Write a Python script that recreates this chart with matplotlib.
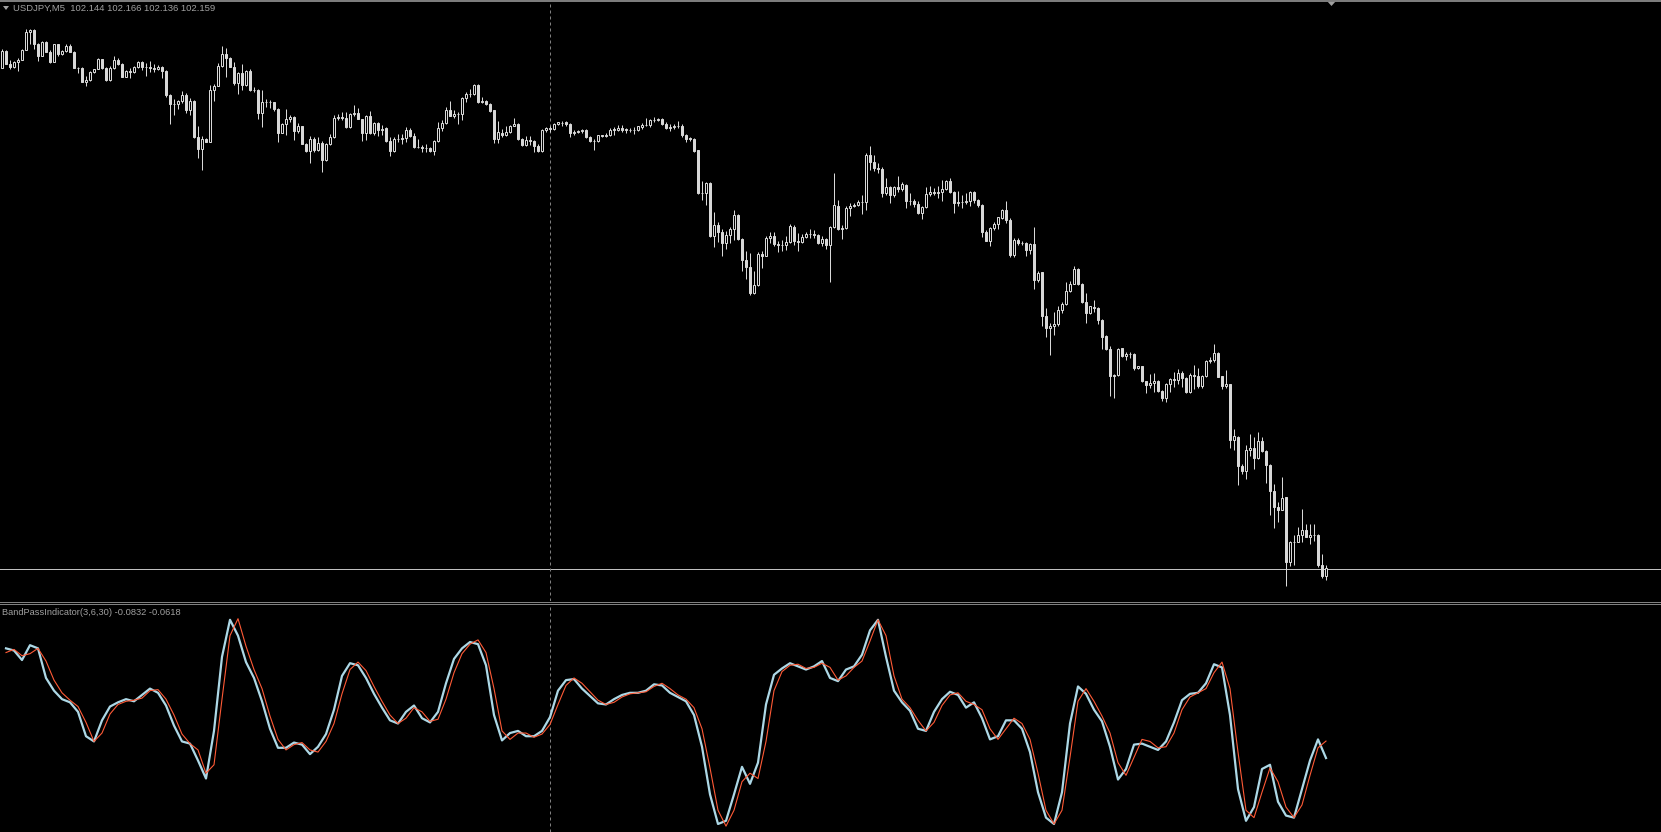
import numpy as np
import matplotlib
matplotlib.use("Agg")
import matplotlib.pyplot as plt
from matplotlib.lines import Line2D
from matplotlib.patches import Polygon

# USDJPY M5 closes, one per bar (open of each bar = previous close)
closes = [
    103.194, 103.168, 103.163, 103.173, 103.176, 103.196, 103.232, 103.236, 103.208, 103.185,
    103.212, 103.193, 103.173, 103.208, 103.188, 103.194, 103.204, 103.192, 103.160, 103.160,
    103.133, 103.136, 103.152, 103.158, 103.178, 103.161, 103.136, 103.160, 103.176, 103.168,
    103.142, 103.154, 103.153, 103.162, 103.173, 103.163, 103.163, 103.161, 103.159, 103.163,
    103.154, 103.106, 103.088, 103.088, 103.094, 103.106, 103.076, 103.094, 103.023, 102.999,
    103.018, 103.012, 103.116, 103.125, 103.165, 103.189, 103.181, 103.163, 103.131, 103.151,
    103.126, 103.154, 103.117, 103.116, 103.071, 103.093, 103.092, 103.092, 103.079, 103.031,
    103.048, 103.059, 103.063, 103.035, 103.044, 103.008, 102.994, 103.019, 102.996, 103.011,
    102.977, 103.008, 103.023, 103.061, 103.062, 103.060, 103.043, 103.069, 103.071, 103.058,
    103.031, 103.064, 103.031, 103.051, 103.037, 103.039, 103.015, 102.994, 103.019, 103.019,
    103.021, 103.036, 103.025, 103.003, 103.003, 103.001, 103.001, 102.994, 103.014, 103.041,
    103.051, 103.076, 103.065, 103.069, 103.069, 103.101, 103.109, 103.108, 103.126, 103.093,
    103.095, 103.088, 103.075, 103.018, 103.031, 103.026, 103.033, 103.044, 103.048, 103.019,
    103.006, 103.016, 103.014, 103.004, 102.994, 103.036, 103.041, 103.038, 103.048, 103.051,
    103.051, 103.048, 103.031, 103.033, 103.035, 103.037, 103.023, 103.014, 103.015, 103.025,
    103.024, 103.026, 103.036, 103.037, 103.041, 103.037, 103.036, 103.036, 103.036, 103.043,
    103.046, 103.046, 103.057, 103.057, 103.059, 103.049, 103.041, 103.043, 103.044, 103.045,
    103.026, 103.019, 103.018, 102.995, 102.911, 102.911, 102.931, 102.825, 102.846, 102.833,
    102.811, 102.827, 102.838, 102.867, 102.818, 102.777, 102.763, 102.711, 102.727, 102.789,
    102.784, 102.821, 102.824, 102.809, 102.806, 102.806, 102.813, 102.843, 102.815, 102.813,
    102.823, 102.829, 102.829, 102.827, 102.811, 102.819, 102.806, 102.843, 102.885, 102.838,
    102.840, 102.881, 102.884, 102.886, 102.893, 102.893, 102.986, 102.973, 102.961, 102.958,
    102.911, 102.921, 102.906, 102.921, 102.918, 102.927, 102.895, 102.894, 102.889, 102.871,
    102.883, 102.909, 102.913, 102.911, 102.913, 102.919, 102.934, 102.913, 102.891, 102.893,
    102.893, 102.894, 102.913, 102.897, 102.886, 102.833, 102.814, 102.841, 102.849, 102.861,
    102.877, 102.856, 102.786, 102.816, 102.810, 102.810, 102.796, 102.809, 102.737, 102.751,
    102.664, 102.641, 102.644, 102.649, 102.677, 102.689, 102.714, 102.729, 102.759, 102.728,
    102.693, 102.671, 102.683, 102.681, 102.657, 102.623, 102.599, 102.544, 102.546, 102.599,
    102.584, 102.589, 102.589, 102.561, 102.565, 102.534, 102.527, 102.531, 102.534, 102.515,
    102.501, 102.529, 102.539, 102.537, 102.551, 102.541, 102.513, 102.547, 102.544, 102.524,
    102.544, 102.575, 102.577, 102.591, 102.543, 102.525, 102.528, 102.417, 102.423, 102.365,
    102.355, 102.396, 102.401, 102.381, 102.414, 102.395, 102.367, 102.314, 102.283, 102.277,
    102.301, 102.173, 102.213, 102.213, 102.227, 102.236, 102.223, 102.227, 102.227, 102.166,
    102.144, 102.159,
]
first_open = 103.161

# wick lengths beyond the body, in points (0.001)
upper_wick = [
    4, 2, 8, 2, 4, 2, 6, 2, 2, 2,   2, 2, 4, 0, 0, 2, 4, 4, 2, 2,
    2, 8, 2, 0, 2, 0, 2, 4, 8, 4,   2, 2, 6, 2, 2, 2, 8, 12, 8, 4,
    2, 2, 2, 10, 2, 8, 4, 6, 2, 22,   6, 2, 10, 4, 6, 16, 12, 2, 10, 2,
    18, 2, 4, 6, 2, 24, 6, 4, 0, 2,   2, 20, 4, 2, 6, 0, 2, 6, 4, 12,
    4, 2, 6, 6, 6, 10, 12, 2, 16, 10,   0, 2, 10, 2, 2, 8, 4, 8, 4, 10,
    8, 6, 4, 6, 16, 4, 8, 2, 2, 12,   6, 6, 18, 8, 4, 2, 4, 10, 2, 2,
    8, 2, 2, 0, 24, 8, 12, 2, 12, 2,   2, 8, 8, 2, 4, 2, 2, 4, 2, 2,
    4, 4, 2, 4, 2, 2, 2, 2, 4, 2,   2, 4, 4, 6, 6, 6, 4, 4, 6, 2,
    4, 14, 2, 6, 2, 2, 4, 6, 4, 10,   4, 2, 4, 2, 2, 24, 2, 2, 26, 6,
    6, 8, 4, 10, 2, 2, 18, 28, 28, 4,   6, 4, 8, 8, 6, 10, 12, 6, 4, 16,
    6, 4, 10, 8, 2, 6, 2, 2, 66, 12,   6, 4, 6, 4, 4, 14, 4, 18, 14, 10,
    4, 20, 4, 4, 24, 6, 2, 16, 4, 6,   2, 14, 12, 8, 12, 18, 2, 6, 2, 22,
    14, 16, 2, 2, 2, 2, 4, 2, 4, 0,   2, 18, 4, 4, 4, 4, 2, 2, 34, 4,
    2, 16, 6, 24, 8, 4, 18, 6, 6, 2,   2, 18, 2, 14, 2, 2, 4, 6, 2, 2,
    0, 4, 4, 2, 0, 0, 0, 18, 16, 2,   2, 2, 2, 14, 8, 4, 2, 4, 20, 16,
    2, 2, 6, 18, 2, 2, 28, 0, 16, 2,   4, 10, 28, 22, 18, 8, 2, 2, 14, 10,
    42, 2, 2, 14, 16, 42, 12, 22, 22, 2,   22, 7,
]
lower_wick = [
    0, 0, 4, 2, 18, 0, 0, 24, 10, 10,   0, 0, 2, 0, 4, 2, 2, 0, 0, 10,
    0, 8, 2, 2, 0, 2, 2, 2, 2, 2,   0, 0, 12, 2, 2, 6, 18, 8, 6, 2,
    14, 4, 40, 22, 10, 4, 6, 10, 2, 18,   42, 0, 0, 22, 0, 2, 38, 0, 4, 22,
    10, 2, 2, 4, 12, 28, 10, 12, 4, 18,   0, 22, 6, 18, 4, 0, 2, 24, 4, 2,
    24, 2, 2, 2, 4, 4, 2, 2, 4, 0,   16, 14, 2, 4, 12, 10, 2, 10, 2, 6,
    10, 8, 2, 2, 2, 8, 8, 2, 8, 2,   6, 2, 0, 4, 20, 12, 8, 6, 2, 2,
    2, 2, 2, 8, 8, 4, 2, 2, 0, 2,   2, 2, 8, 12, 2, 2, 4, 6, 2, 2,
    6, 4, 8, 4, 2, 4, 2, 2, 18, 2,   2, 2, 2, 10, 2, 4, 6, 4, 8, 2,
    4, 2, 4, 4, 2, 2, 2, 6, 4, 4,   4, 6, 4, 2, 2, 14, 24, 2, 22, 20,
    26, 12, 16, 22, 2, 22, 24, 4, 2, 2,   24, 0, 10, 4, 14, 12, 10, 2, 8, 18,
    2, 2, 8, 6, 2, 6, 8, 74, 2, 2,   20, 2, 16, 2, 2, 24, 16, 16, 6, 8,
    8, 4, 16, 4, 6, 4, 14, 8, 6, 2,   12, 2, 4, 4, 10, 18, 2, 2, 20, 6,
    12, 4, 10, 6, 4, 10, 0, 10, 4, 10,   2, 6, 4, 4, 4, 4, 12, 8, 18, 4,
    20, 18, 54, 18, 4, 6, 2, 2, 0, 2,   2, 20, 2, 8, 8, 24, 2, 40, 44, 2,
    2, 8, 8, 4, 2, 2, 16, 6, 18, 2,   6, 8, 16, 14, 8, 18, 2, 2, 26, 4,
    4, 2, 4, 4, 0, 6, 4, 16, 20, 38,   6, 16, 12, 22, 2, 2, 36, 48, 42, 24,
    0, 48, 8, 46, 0, 14, 0, 14, 12, 4,   4, 8,
]

# BandPassIndicator(3,6,30), read every second bar (bars 1, 3, ..., 331)
bp_main = [
    0.0550, 0.0523, 0.0403, 0.0590, 0.0550, 0.0177, 0.0017, -0.0090, -0.0130, -0.0250,
    -0.0557, -0.0623, -0.0357, -0.0183, -0.0130, -0.0090, -0.0117, -0.0037, 0.0043, -0.0010,
    -0.0170, -0.0423, -0.0623, -0.0650, -0.0863, -0.1090, -0.0490, 0.0443, 0.0910, 0.0710,
    0.0377, 0.0177, -0.0117, -0.0463, -0.0703, -0.0703, -0.0637, -0.0663, -0.0783, -0.0690,
    -0.0530, -0.0223, 0.0203, 0.0363, 0.0337, 0.0177, -0.0023, -0.0197, -0.0357, -0.0397,
    -0.0250, -0.0170, -0.0330, -0.0383, -0.0250, 0.0110, 0.0417, 0.0550, 0.0630, 0.0603,
    0.0337, -0.0290, -0.0610, -0.0517, -0.0490, -0.0557, -0.0557, -0.0490, -0.0317, 0.0017,
    0.0150, 0.0163, 0.0043, -0.0050, -0.0143, -0.0157, -0.0090, -0.0037, -0.0010, -0.0010,
    0.0017, 0.0097, 0.0083, -0.0010, -0.0063, -0.0117, -0.0290, -0.0690, -0.1290, -0.1663,
    -0.1623, -0.1290, -0.0943, -0.1157, -0.0890, -0.0157, 0.0217, 0.0297, 0.0363, 0.0323,
    0.0283, 0.0323, 0.0390, 0.0177, 0.0137, 0.0283, 0.0323, 0.0470, 0.0777, 0.0910,
    0.0443, 0.0017, -0.0130, -0.0237, -0.0463, -0.0490, -0.0250, -0.0090, 0.0003, -0.0037,
    -0.0197, -0.0130, -0.0330, -0.0597, -0.0557, -0.0357, -0.0357, -0.0463, -0.0757, -0.1263,
    -0.1583, -0.1663, -0.1263, -0.0397, 0.0070, -0.0023, -0.0223, -0.0370, -0.0690, -0.1103,
    -0.0970, -0.0663, -0.0650, -0.0690, -0.0730, -0.0623, -0.0383, -0.0103, -0.0023, -0.0010,
    0.0110, 0.0350, 0.0310, -0.0290, -0.1223, -0.1623, -0.1450, -0.0970, -0.0917, -0.1383,
    -0.1557, -0.1583, -0.1223, -0.0863, -0.0597, -0.0832,
]
bp_signal = [
    0.0497, 0.0537, 0.0457, 0.0483, 0.0550, 0.0390, 0.0150, -0.0010, -0.0103, -0.0183,
    -0.0383, -0.0623, -0.0517, -0.0277, -0.0157, -0.0117, -0.0103, -0.0077, 0.0017, 0.0030,
    -0.0090, -0.0290, -0.0530, -0.0650, -0.0730, -0.1023, -0.0917, -0.0090, 0.0710, 0.0924,
    0.0577, 0.0283, 0.0043, -0.0303, -0.0597, -0.0730, -0.0663, -0.0637, -0.0730, -0.0757,
    -0.0623, -0.0397, -0.0023, 0.0283, 0.0377, 0.0270, 0.0070, -0.0117, -0.0290, -0.0397,
    -0.0330, -0.0197, -0.0250, -0.0370, -0.0343, -0.0090, 0.0243, 0.0483, 0.0603, 0.0657,
    0.0497, 0.0043, -0.0490, -0.0597, -0.0517, -0.0517, -0.0570, -0.0530, -0.0410, -0.0157,
    0.0083, 0.0177, 0.0110, 0.0003, -0.0103, -0.0157, -0.0130, -0.0063, -0.0023, -0.0010,
    0.0003, 0.0070, 0.0110, 0.0043, -0.0037, -0.0090, -0.0197, -0.0463, -0.0957, -0.1490,
    -0.1690, -0.1490, -0.1130, -0.1023, -0.1090, -0.0623, 0.0017, 0.0257, 0.0337, 0.0350,
    0.0297, 0.0310, 0.0363, 0.0310, 0.0150, 0.0203, 0.0310, 0.0390, 0.0643, 0.0910,
    0.0710, 0.0203, -0.0090, -0.0197, -0.0357, -0.0490, -0.0383, -0.0170, -0.0037, -0.0010,
    -0.0117, -0.0157, -0.0223, -0.0463, -0.0597, -0.0463, -0.0330, -0.0397, -0.0597, -0.1023,
    -0.1490, -0.1663, -0.1490, -0.0823, -0.0117, 0.0043, -0.0117, -0.0303, -0.0517, -0.0890,
    -0.1050, -0.0823, -0.0597, -0.0623, -0.0703, -0.0690, -0.0517, -0.0223, -0.0063, -0.0010,
    0.0043, 0.0243, 0.0377, 0.0043, -0.0757, -0.1490, -0.1583, -0.1263, -0.0957, -0.1130,
    -0.1450, -0.1583, -0.1423, -0.1050, -0.0703, -0.0618,
]

header_text = "USDJPY,M5  102.144 102.166 102.136 102.159"
indicator_text = "BandPassIndicator(3,6,30) -0.0832 -0.0618"
bid_price = 102.159
marker_bar = 137

W, H = 1661, 832
BG = "black"
CANDLE = "#d8d8d8"
GRID_GRAY = "#808080"


def fx(px):
    return px / W


def fy(py):
    # pixel row from top -> figure fraction
    return 1 - py / H


closes = np.array(closes)
opens = np.concatenate([[first_open], closes[:-1]])
highs = np.maximum(opens, closes) + np.array(upper_wick) / 1000.0
lows = np.minimum(opens, closes) - np.array(lower_wick) / 1000.0
bars = np.arange(len(closes))

fig = plt.figure(figsize=(W / 100, H / 100), dpi=100, facecolor=BG)

# price panel: rows 0..601
ax = fig.add_axes([0, fy(601), 1, 601 / H])
ax.set_facecolor(BG)
ax.set_xlim(-0.5, W / 4 - 0.5)
ax.set_ylim(103.296 - 0.002 * 601, 103.296)
ax.axis("off")

lw = 0.72  # one pixel
ax.vlines(bars, lows, highs, color=CANDLE, linewidth=lw, zorder=2)
bull = closes > opens
body_lo = np.minimum(opens, closes)
body_h = np.abs(closes - opens)
ax.bar(bars[bull], body_h[bull], bottom=body_lo[bull], width=0.5,
       facecolor=BG, edgecolor=CANDLE, linewidth=lw, zorder=3)
ax.bar(bars[~bull], body_h[~bull], bottom=body_lo[~bull], width=0.5,
       facecolor=CANDLE, edgecolor=CANDLE, linewidth=lw, zorder=3)

ax.axhline(bid_price, color="#c0c0c0", linewidth=lw, zorder=1)
ax.axvline(marker_bar, color=GRID_GRAY, linewidth=lw, linestyle=(0, (3, 3)), zorder=1)

# indicator panel: rows 604..832
ax2 = fig.add_axes([0, 0, 1, 228 / H])
ax2.set_facecolor(BG)
ax2.set_xlim(-0.5, W / 4 - 0.5)
ax2.set_ylim(-0.1764, 0.1109)
ax2.axis("off")
bp_bars = np.arange(1, len(closes) + 1, 2)[:len(bp_main)]
ax2.plot(bp_bars, bp_main, color="#add8e6", linewidth=1.6,
         solid_joinstyle="round", zorder=2)
ax2.plot(bp_bars, bp_signal, color="#ff5a36", linewidth=0.8,
         solid_joinstyle="round", zorder=3)
ax2.axvline(marker_bar, color=GRID_GRAY, linewidth=lw, linestyle=(0, (3, 3)), zorder=1)

# frame lines, separator and chart-shift marker
fig.add_artist(Line2D([0, 1], [fy(0.5), fy(0.5)], color=GRID_GRAY, linewidth=1.4))
fig.add_artist(Line2D([0, 1], [fy(601.5), fy(601.5)], color=GRID_GRAY, linewidth=lw))
fig.add_artist(Line2D([0, 1], [fy(603.5), fy(603.5)], color=GRID_GRAY, linewidth=lw))
fig.add_artist(Polygon([[fx(1327), fy(1)], [fx(1336), fy(1)], [fx(1331.5), fy(6)]],
                       closed=True, facecolor="#a0a0a0", edgecolor="none",
                       transform=fig.transFigure))
fig.add_artist(Polygon([[fx(3), fy(6)], [fx(9), fy(6)], [fx(6), fy(10)]],
                       closed=True, facecolor="#a0a0a0", edgecolor="none",
                       transform=fig.transFigure))

fig.text(fx(13), fy(8.5), header_text, color="#a0a0a0", fontsize=6.8,
         family="Liberation Sans", va="center", ha="left")
fig.text(fx(2), fy(612.5), indicator_text, color="#a0a0a0", fontsize=6.7,
         family="Liberation Sans", va="center", ha="left")

fig.savefig("out.png", dpi=100, facecolor=BG)
